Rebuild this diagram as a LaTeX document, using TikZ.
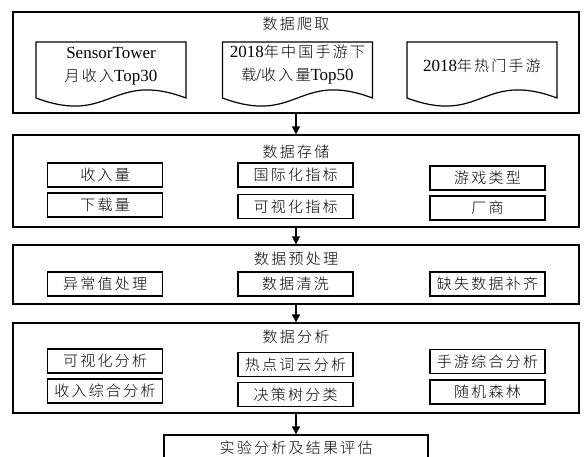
\documentclass[tikz,border=0pt]{standalone}
\usepackage{fontspec}
\setmainfont{Liberation Serif}
\IfFontExistsTF{Noto Sans CJK SC Light}
  {\newfontfamily\cjkfont{Noto Sans CJK SC Light}[LetterSpace=15]}
  {\newfontfamily\cjkfont{Noto Sans CJK SC}[LetterSpace=15]}
\newcommand\zh[1]{{\fontsize{15pt}{23pt}\cjkfont #1}}
\usetikzlibrary{arrows.meta,calc}
\begin{document}
\begin{tikzpicture}[x=1pt,y=-1pt,line width=1.2pt,
  outer/.style={draw, minimum width=566pt, inner sep=0pt},
  item/.style={draw, minimum width=115pt, minimum height=24pt, inner sep=0pt, font=\fontsize{15pt}{18pt}\cjkfont},
  ttl/.style={inner sep=0pt, font=\fontsize{15pt}{18pt}\cjkfont},
  doctext/.style={inner sep=0pt, align=center, font=\fontsize{17pt}{23pt}\selectfont},
  arr/.style={-{Triangle[length=8pt,width=8pt]}, line width=1.2pt}]
\useasboundingbox (0,0) rectangle (584,457);
% outer boxes
\node[outer, minimum height=101pt] (b1) at (296,62.5) {};
\node[outer, minimum height=92pt] (b2) at (296,181) {};
\node[outer, minimum height=59pt] (b3) at (296,274.5) {};
\node[outer, minimum height=90pt] (b4) at (296,368) {};
\node[draw, minimum width=264pt, minimum height=26pt, inner sep=0pt, font=\fontsize{15pt}{18pt}\cjkfont] (f) at (296,448) {实验分析及结果评估};
% titles
\node[ttl] (t1) at (296,24) {数据爬取};
\node[ttl] (t2) at (296,152) {数据存储};
\node[ttl] (t3) at (296,259) {数据预处理};
\node[ttl] (t4) at (296,337) {数据分析};
% documents
\node[doctext] (d1) at (111,66) {SensorTower\\\zh{月收入}Top30};
\node[doctext] (d2) at (297.5,65) {2018\zh{年中国手游下}\\\zh{载}/\zh{收入量}Top50};
\node[doctext] (d3) at (482,66) {2018\zh{年热门手游}};
\foreach \d/\dy in {d1/0, d2/1, d3/0}{
  \draw ($(\d)+(-75,32+\dy)$) -- ($(\d)+(-75,-24+\dy)$) -- ($(\d)+(75,-24+\dy)$) -- ($(\d)+(75,32+\dy)$)
    .. controls ($(\d)+(0,4+\dy)$) and ($(\d)+(0,60+\dy)$) .. cycle;
}
% storage
\node[item] (s1) at (105,175) {收入量};
\node[item] (s2) at (105,205) {下载量};
\node[item] (s3) at (295.5,175) {国际化指标};
\node[item] (s4) at (295.5,206.5) {可视化指标};
\node[item] (s5) at (487.5,178) {游戏类型};
\node[item] (s6) at (487.5,208) {厂商};
% preprocessing
\node[item] (p1) at (105,284) {异常值处理};
\node[item] (p2) at (295.5,284) {数据清洗};
\node[item] (p3) at (487.5,284) {缺失数据补齐};
% analysis
\node[item] (a1) at (105,361) {可视化分析};
\node[item] (a2) at (105,391) {收入综合分析};
\node[item] (a3) at (295.5,364.5) {热点词云分析};
\node[item] (a4) at (295.5,394.5) {决策树分类};
\node[item] (a5) at (487.5,361.5) {手游综合分析};
\node[item] (a6) at (487.5,392) {随机森林};
% arrows
\draw[arr] (b1.south) -- (b2.north);
\draw[arr] (b2.south) -- (b3.north);
\draw[arr] (b3.south) -- (b4.north);
\draw[arr] (b4.south) -- (f.north);
\end{tikzpicture}
\end{document}
